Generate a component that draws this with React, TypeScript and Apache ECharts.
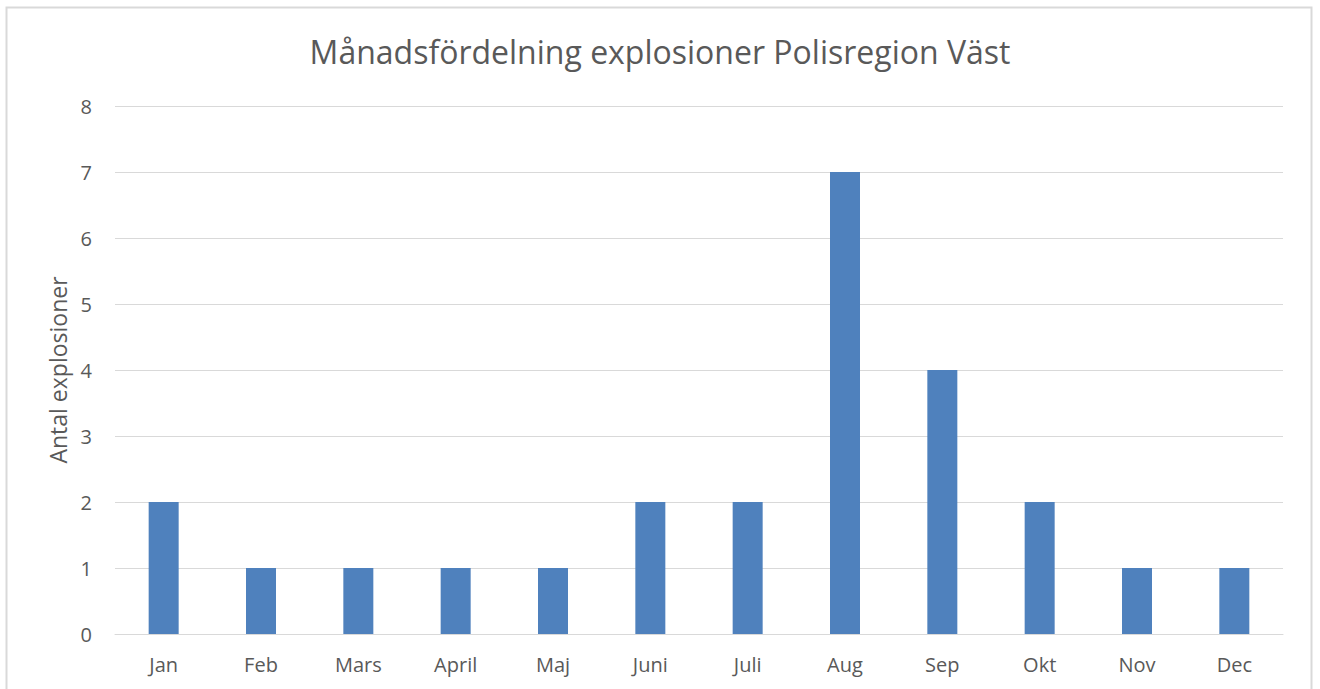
import React, { useEffect, useRef } from "react";
import * as echarts from "echarts";

const months = ["Jan", "Feb", "Mars", "April", "Maj", "Juni", "Juli", "Aug", "Sep", "Okt", "Nov", "Dec"];
const counts = [2, 1, 1, 1, 1, 2, 2, 7, 4, 2, 1, 1];
const titleText = "Månadsfördelning explosioner Polisregion Väst";
const yAxisName = "Antal explosioner";

const FONT = "'Open Sans', 'Liberation Sans', sans-serif";
const TEXT = "#595959";

export default function App() {
  const ref = useRef<HTMLDivElement>(null);
  useEffect(() => {
    if (!ref.current) return;
    const chart = echarts.init(ref.current, undefined, { renderer: "svg" });
    chart.setOption({
      animation: false,
      backgroundColor: "#ffffff",
      title: {
        text: titleText,
        left: "center",
        top: 30,
        textStyle: { fontFamily: FONT, fontSize: 32, fontWeight: "normal", color: TEXT },
      },
      graphic: [
        {
          type: "rect",
          shape: { x: 6.5, y: 7.5, width: 1305, height: 720 },
          style: { fill: "none", stroke: "#d9d9d9", lineWidth: 2 },
          silent: true,
        },
      ],
      grid: { left: 115, right: 37, top: 106, bottom: 55, containLabel: false },
      xAxis: {
        type: "category",
        data: months,
        axisLine: { show: true, lineStyle: { color: "#d9d9d9", width: 1 } },
        axisTick: { show: false },
        axisLabel: { fontFamily: FONT, fontSize: 20, color: TEXT, margin: 20 },
      },
      yAxis: {
        type: "value",
        min: 0,
        max: 8,
        interval: 1,
        name: yAxisName,
        nameLocation: "middle",
        nameGap: 46,
        nameTextStyle: { fontFamily: FONT, fontSize: 23, color: TEXT },
        axisLine: { show: false },
        axisTick: { show: false },
        axisLabel: { fontFamily: FONT, fontSize: 20, color: TEXT, margin: 23 },
        splitLine: { lineStyle: { color: "#d9d9d9", width: 1 } },
      },
      series: [
        {
          type: "bar",
          data: counts,
          barWidth: 30,
          itemStyle: { color: "#4f81bd" },
        },
      ],
    });
    return () => chart.dispose();
  }, []);
  return (
    <div
      ref={ref}
      style={{ position: "absolute", left: 0, top: 0, width: 1320, height: 689 }}
    />
  );
}
